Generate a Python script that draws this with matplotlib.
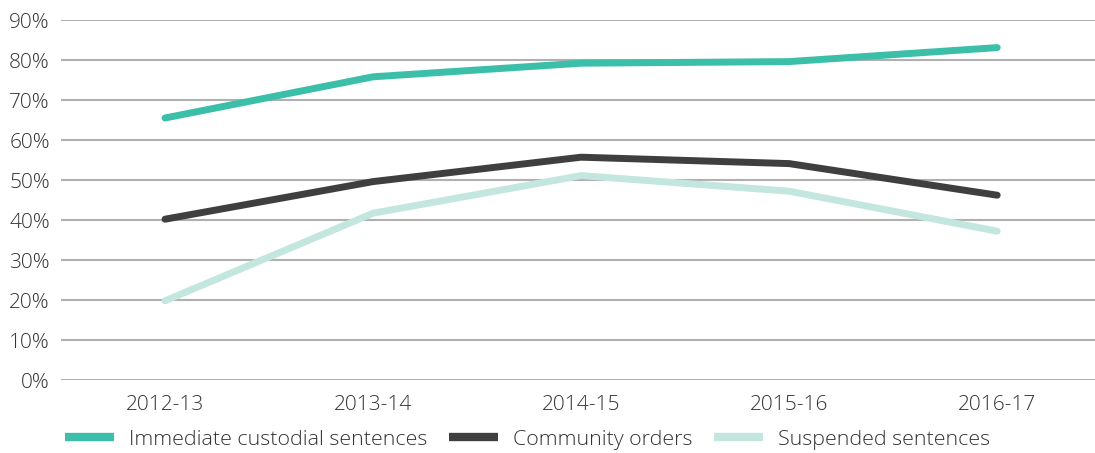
import numpy as np
import matplotlib.pyplot as plt

plt.rcParams['font.family'] = ['Open Sans', 'DejaVu Sans']
plt.rcParams['font.weight'] = 'light'

years = ['2012-13', '2013-14', '2014-15', '2015-16', '2016-17']
immediate = [65.5, 75.8, 79.2, 79.6, 83.1]
community = [40.2, 49.6, 55.7, 54.1, 46.2]
suspended = [19.8, 41.7, 51.1, 47.2, 37.2]

fig = plt.figure(figsize=(10.95, 4.53), dpi=100)
ax = fig.add_axes([61/1095, 73/453, 1 - 61/1095, 360/453])

x = np.arange(len(years))
ax.plot(x, immediate, color='#3bbfa9', lw=5, solid_capstyle='round', label='Immediate custodial sentences')
ax.plot(x, community, color='#3f3f3f', lw=5, solid_capstyle='round', label='Community orders')
ax.plot(x, suspended, color='#c3e6de', lw=5, solid_capstyle='round', label='Suspended sentences')

ax.set_xlim(-0.5, 4.47)
ax.set_ylim(0, 90)
ax.set_yticks(np.arange(0, 91, 10))
ax.set_yticklabels([f'{v}%' for v in range(0, 91, 10)])
ax.set_xticks(x)
ax.set_xticklabels(years)
ax.grid(axis='y', color='#b0b0b0', lw=1.5)
ax.set_axisbelow(True)
for s in ax.spines.values():
    s.set_visible(False)
ax.tick_params(length=0, labelsize=15, labelcolor='#333333')
ax.tick_params(axis='y', pad=8)
ax.tick_params(axis='x', pad=11)

leg = fig.legend(loc='lower left', bbox_to_anchor=(46/1095, -0.035), ncol=3, frameon=False,
                 fontsize=15.4, handlelength=2.3, columnspacing=1.0, handletextpad=0.7,
                 labelcolor='#333333')
for h in leg.legend_handles:
    h.set_solid_capstyle('butt')
    h.set_linewidth(6)

fig.savefig('out.png', dpi=100)
